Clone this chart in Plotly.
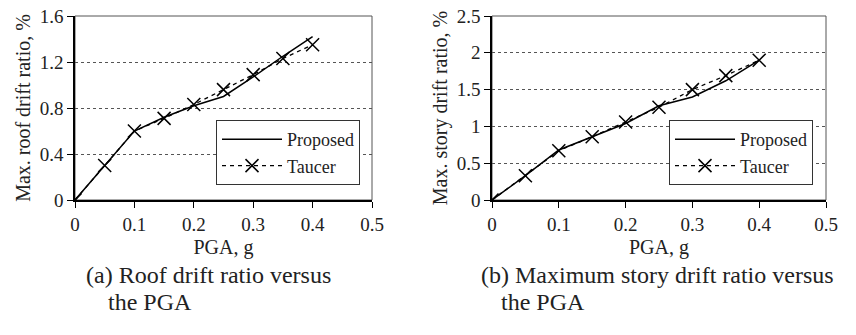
import plotly.graph_objects as go

W, H = 856, 335

pga = [0, 0.05, 0.1, 0.15, 0.2, 0.25, 0.3, 0.35, 0.4]

roof_proposed = [0, 0.30, 0.60, 0.72, 0.82, 0.90, 1.07, 1.25, 1.42]
roof_taucer = [0, 0.30, 0.60, 0.71, 0.83, 0.96, 1.09, 1.23, 1.35]

story_proposed = [0, 0.33, 0.68, 0.86, 1.04, 1.28, 1.40, 1.62, 1.90]
story_taucer = [0, 0.33, 0.67, 0.86, 1.06, 1.26, 1.50, 1.69, 1.90]

x_ticks = [0, 0.1, 0.2, 0.3, 0.4, 0.5]
x_ticktext = ["0", "0.1", "0.2", "0.3", "0.4", "0.5"]
roof_ticks = [0, 0.4, 0.8, 1.2, 1.6]
roof_ticktext = ["0", "0.4", "0.8", "1.2", "1.6"]
story_ticks = [0, 0.5, 1, 1.5, 2, 2.5]
story_ticktext = ["0", "0.5", "1", "1.5", "2", "2.5"]

series_names = ["Proposed", "Taucer"]
x_title = "PGA, g"
y_titles = ["Max. roof drift ratio, %", "Max. story drift ratio, %"]
captions = [("(a) Roof drift ratio versus", "the PGA"),
            ("(b) Maximum story drift ratio versus", "the PGA")]

FONT = "Liberation Serif"
TXT = "#222"

def px_x(p):
    return p / W

def px_y(p):
    return (H - p) / H

fig = go.Figure()

# panel (a)
fig.add_trace(go.Scatter(x=pga, y=roof_proposed, name=series_names[0], mode="lines",
                         line=dict(color="black", width=1.5), xaxis="x", yaxis="y",
                         legend="legend"))
fig.add_trace(go.Scatter(x=pga, y=roof_taucer, name=series_names[1], mode="lines+markers",
                         line=dict(color="black", width=1.3, dash="4px,4px"),
                         marker=dict(symbol="x-thin-open", size=13, color="black",
                                     line=dict(color="black", width=1.5)),
                         xaxis="x", yaxis="y", legend="legend"))
# panel (b)
fig.add_trace(go.Scatter(x=pga, y=story_proposed, name=series_names[0], mode="lines",
                         line=dict(color="black", width=1.5), xaxis="x2", yaxis="y2",
                         legend="legend2"))
fig.add_trace(go.Scatter(x=pga, y=story_taucer, name=series_names[1], mode="lines+markers",
                         line=dict(color="black", width=1.3, dash="4px,4px"),
                         marker=dict(symbol="x-thin-open", size=13, color="black",
                                     line=dict(color="black", width=1.5)),
                         xaxis="x2", yaxis="y2", legend="legend2"))

panels = [
    dict(x0=75, x1=372, ticks=roof_ticks, ticktext=roof_ticktext, ymax=1.6),
    dict(x0=492, x1=826, ticks=story_ticks, ticktext=story_ticktext, ymax=2.5),
]
top_px, bot_px = 16, 200

xaxis_common = dict(range=[0, 0.5], tickvals=x_ticks, ticktext=x_ticktext,
                    showline=True, linecolor="black", linewidth=1.5,
                    ticks="outside", ticklen=6, tickcolor="black", tickwidth=1,
                    showgrid=False, zeroline=False, automargin=False,
                    tickfont=dict(family=FONT, size=19, color=TXT),
                    title=dict(text=x_title, font=dict(family=FONT, size=20, color=TXT),
                               standoff=6))
yaxis_common = dict(showline=True, linecolor="black", linewidth=1.5,
                    ticks="outside", ticklen=6, tickcolor="black", tickwidth=1,
                    showgrid=True, gridcolor="#555", griddash="dot", gridwidth=1,
                    zeroline=False, automargin=False,
                    tickfont=dict(family=FONT, size=19, color=TXT))

layout = dict(
    width=W, height=H, margin=dict(l=0, r=0, t=0, b=0),
    paper_bgcolor="white", plot_bgcolor="white",
    font=dict(family=FONT, size=18, color=TXT),
)
for i, p in enumerate(panels):
    sfx = "" if i == 0 else str(i + 1)
    layout["xaxis" + sfx] = dict(xaxis_common, domain=[px_x(p["x0"]), px_x(p["x1"])],
                                 anchor="y" + sfx)
    layout["yaxis" + sfx] = dict(yaxis_common, domain=[px_y(bot_px), px_y(top_px)],
                                 range=[0, p["ymax"]], tickvals=p["ticks"],
                                 ticktext=p["ticktext"], anchor="x" + sfx,
                                 title=dict(text=y_titles[i],
                                            font=dict(family=FONT, size=20, color=TXT),
                                            standoff=4))

legend_style = dict(bgcolor="white", bordercolor="#333", borderwidth=1,
                    font=dict(family=FONT, size=18, color=TXT),
                    xanchor="right", yanchor="bottom", tracegroupgap=0,
                    itemwidth=60)
layout["legend"] = dict(legend_style, x=px_x(360), y=px_y(185))
layout["legend2"] = dict(legend_style, x=px_x(813), y=px_y(185))

fig.update_layout(**layout)

# plot area border (top/right lighter)
for i, p in enumerate(panels):
    sfx = "" if i == 0 else str(i + 1)
    fig.add_shape(type="rect", xref="x" + sfx + " domain", yref="y" + sfx + " domain",
                  x0=0, x1=1, y0=0, y1=1, line=dict(color="#555", width=1),
                  layer="below")

# captions
cap_pos = [(84, 106), (479, 499)]
for (l1, l2), (cx1, cx2) in zip(captions, cap_pos):
    fig.add_annotation(text=l1, xref="paper", yref="paper", x=px_x(cx1), y=px_y(275),
                       xanchor="left", yanchor="middle", showarrow=False,
                       font=dict(family=FONT, size=24, color=TXT))
    fig.add_annotation(text=l2, xref="paper", yref="paper", x=px_x(cx2), y=px_y(302),
                       xanchor="left", yanchor="middle", showarrow=False,
                       font=dict(family=FONT, size=24, color=TXT))

fig.write_html("out.html", config={"displayModeBar": False},
               post_script="document.body.style.margin='0';document.body.style.overflow='hidden';")
